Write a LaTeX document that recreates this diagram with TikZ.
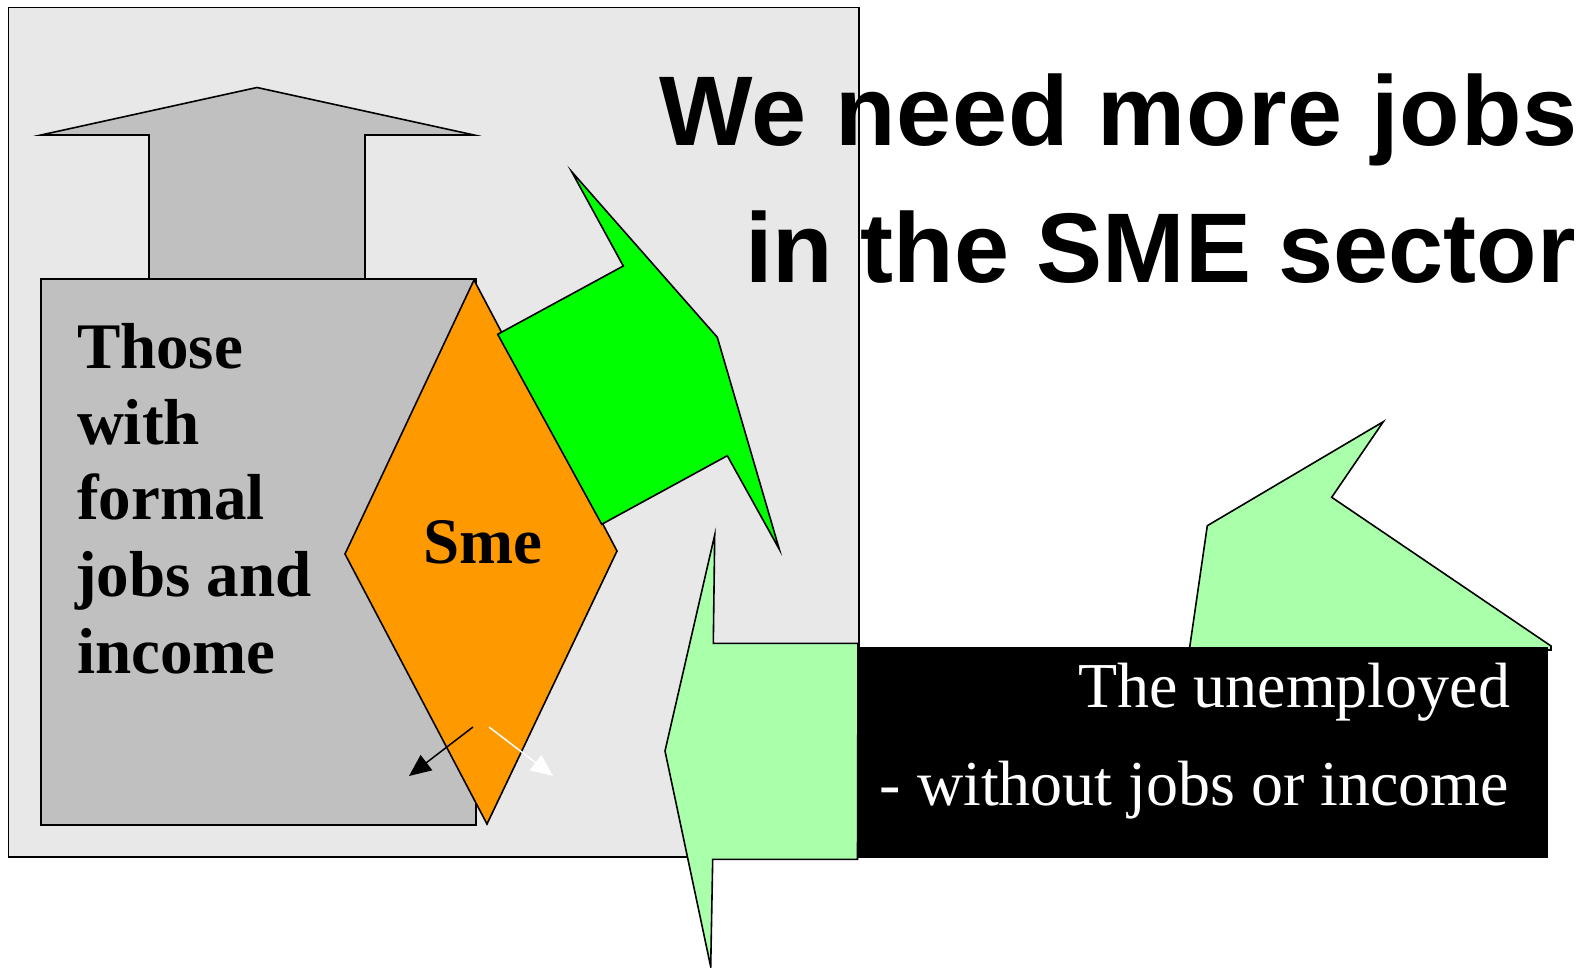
\documentclass[tikz,border=0pt]{standalone}
\usepackage{fontspec}
\setmainfont{Liberation Serif}
\newfontfamily\titlefont{Liberation Sans}
\newfontfamily\titlefontwide{Liberation Sans}[LetterSpace=1]
\usetikzlibrary{arrows.meta}
\definecolor{bggray}{HTML}{E8E8E8}
\definecolor{boxgray}{HTML}{C0C0C0}
\definecolor{smeorange}{HTML}{FF9900}
\definecolor{brightgreen}{HTML}{00FF00}
\definecolor{lightgreen}{HTML}{AAFFAA}
\begin{document}
\begin{tikzpicture}[x=1pt,y=-1pt,
  outl/.style={draw=black,line width=1.6pt,line join=miter},
  txt/.style={inner sep=0pt,outer sep=0pt},
  title/.style={txt,anchor=base east,font=\titlefont\bfseries\fontsize{99}{120}\selectfont},
  titlewide/.style={txt,anchor=base east,font=\titlefontwide\bfseries\fontsize{99}{120}\selectfont},
  lefttxt/.style={txt,anchor=base west,font=\bfseries\fontsize{65}{76}\selectfont},
  whitetxt/.style={txt,anchor=base east,text=white,font=\fontsize{64}{76}\selectfont},
  smallarrow/.style={line width=1.5pt,-{Triangle[length=22pt,width=19pt]}}]
\useasboundingbox (0,0) rectangle (1590,968);
\fill[white] (0,0) rectangle (1590,968);
% background panel
\draw[outl,line width=1.2pt,fill=bggray] (8.5,7.5) rectangle (859,857);
% up arrow
\draw[outl,fill=boxgray] (149,279) -- (149,135) -- (41,135) -- (257,87.5) -- (474,135) -- (365,135) -- (365,279);
% formal jobs box
\draw[outl,fill=boxgray] (41,279) rectangle (476,825);
% Sme diamond
\draw[outl,fill=smeorange] (474,280) -- (617,551) -- (487,824) -- (345,554) -- cycle;
% small arrows
\coordinate (ba1) at (473,727); \coordinate (ba2) at (409,776);
\coordinate (wa1) at (489,727); \coordinate (wa2) at (553,776);
\draw[smallarrow,black] (ba1) -- (ba2);
\draw[smallarrow,white] (wa1) -- (wa2);
% bright green arrow
\draw[outl,fill=brightgreen] (571.7,171.7) -- (717.3,337.3) -- (779.3,549.3) -- (727.3,455.7) -- (601.7,524.3) -- (497.7,334.3) -- (623.3,266) -- cycle;
% light green left arrow
\draw[outl,fill=lightgreen] (714.7,535) -- (713.3,643.3) -- (858,643.3) -- (857.5,859.3) -- (712.7,859.3) -- (710.7,966.7) -- (665,751) -- cycle;
% light green upper arrow
\draw[outl,fill=lightgreen] (1189.3,650) -- (1207.3,525.7) -- (1383.3,421.7) -- (1331.7,497.3) -- (1551,646) -- (1551,650) -- cycle;
% black box
\fill[black] (857,647) rectangle (1548,858);
% texts
\node[titlewide] (t1) at (1578,146) {We need more jobs};
\node[title] (t2) at (1576,283) {in the SME sector};
\node[lefttxt] (l1) at (77,368) {Those};
\node[lefttxt] (l2) at (77,444) {with};
\node[lefttxt] (l3) at (77,519) {formal};
\node[lefttxt] (l4) at (75,596) {jobs and};
\node[lefttxt] (l5) at (77,673) {income};
\node[txt,anchor=base,font=\bfseries\fontsize{65}{76}\selectfont] (sme) at (483,563) {Sme};
\node[whitetxt] (w1) at (1510,707) {The unemployed};
\node[whitetxt] (w2) at (1509,805) {- without jobs or income};
\end{tikzpicture}
\end{document}
